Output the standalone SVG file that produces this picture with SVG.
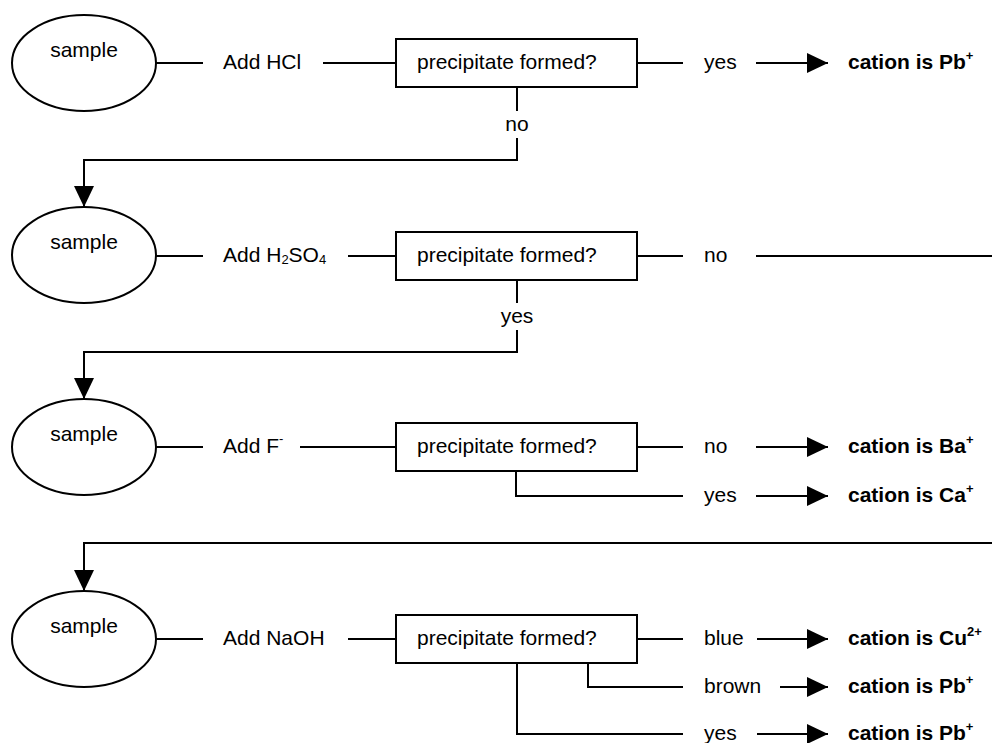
<svg xmlns="http://www.w3.org/2000/svg" width="992" height="743" viewBox="0 0 992 743">
<style>
  .t{font-family:"Liberation Sans",Arial,sans-serif;font-size:21px;fill:#000}
  .b{font-weight:bold}
  .sup{font-size:13px}
  .ln{fill:none;stroke:#000;stroke-width:2}
  .nd{fill:#fff;stroke:#000;stroke-width:2}
</style>
<defs>
  <marker id="arr" viewBox="0 0 21 20" refX="21" refY="10" markerWidth="21" markerHeight="20" orient="auto" markerUnits="userSpaceOnUse">
    <path d="M0,0 L21,10 L0,20 Z" fill="#000"/>
  </marker>
</defs>
<rect width="992" height="743" fill="#fff"/>

<g id="connectors">
  <!-- row 1 -->
  <path class="ln" d="M156,63 H203"/>
  <path class="ln" d="M323,63 H396"/>
  <path class="ln" d="M637,63 H683"/>
  <path class="ln" d="M756,63 H828" marker-end="url(#arr)"/>
  <path class="ln" d="M517,87 V111"/>
  <path class="ln" d="M517,138 V160 H84 V207" marker-end="url(#arr)"/>
  <!-- row 2 -->
  <path class="ln" d="M156,256 H203"/>
  <path class="ln" d="M348,256 H396"/>
  <path class="ln" d="M637,256 H683"/>
  <path class="ln" d="M756,256 H992"/>
  <path class="ln" d="M517,280 V303"/>
  <path class="ln" d="M517,330 V352 H84 V399" marker-end="url(#arr)"/>
  <!-- row 3 -->
  <path class="ln" d="M156,447 H203"/>
  <path class="ln" d="M300,447 H396"/>
  <path class="ln" d="M637,447 H683"/>
  <path class="ln" d="M756,447 H828" marker-end="url(#arr)"/>
  <path class="ln" d="M516,471 V496 H683"/>
  <path class="ln" d="M756,496 H828" marker-end="url(#arr)"/>
  <path class="ln" d="M992,543 H84 V591" marker-end="url(#arr)"/>
  <!-- row 4 -->
  <path class="ln" d="M156,639 H203"/>
  <path class="ln" d="M348,639 H396"/>
  <path class="ln" d="M637,639 H683"/>
  <path class="ln" d="M757,639 H828" marker-end="url(#arr)"/>
  <path class="ln" d="M588,663 V687 H683"/>
  <path class="ln" d="M780,687 H828" marker-end="url(#arr)"/>
  <path class="ln" d="M517,663 V734 H683"/>
  <path class="ln" d="M757,734 H828" marker-end="url(#arr)"/>
</g>

<!-- Row 1 -->
<g id="sample1"><ellipse class="nd" cx="84" cy="63" rx="72" ry="48"/><text class="t" x="84" y="57" text-anchor="middle">sample</text></g>
<g id="reagent1"><text class="t" x="223" y="69">Add HCl</text></g>
<g id="decision1"><rect class="nd" x="396" y="39" width="241" height="48"/><text class="t" x="417" y="69">precipitate formed?</text></g>
<g id="label1yes"><text class="t" x="704" y="69">yes</text></g>
<g id="result1"><text class="t b" x="848" y="69">cation is Pb<tspan class="sup" dy="-9">+</tspan></text></g>
<g id="label1no"><text class="t" x="517" y="131" text-anchor="middle">no</text></g>

<!-- Row 2 -->
<g id="sample2"><ellipse class="nd" cx="84" cy="255" rx="72" ry="48"/><text class="t" x="84" y="249" text-anchor="middle">sample</text></g>
<g id="reagent2"><text class="t" x="223" y="262">Add H<tspan class="sup" dy="2">2</tspan><tspan dy="-2">SO</tspan><tspan class="sup" dy="2">4</tspan></text></g>
<g id="decision2"><rect class="nd" x="396" y="232" width="241" height="48"/><text class="t" x="417" y="262">precipitate formed?</text></g>
<g id="label2no"><text class="t" x="704" y="262">no</text></g>
<g id="label2yes"><text class="t" x="517" y="323" text-anchor="middle">yes</text></g>

<!-- Row 3 -->
<g id="sample3"><ellipse class="nd" cx="84" cy="447" rx="72" ry="48"/><text class="t" x="84" y="441" text-anchor="middle">sample</text></g>
<g id="reagent3"><text class="t" x="223" y="453">Add F<tspan class="sup" dy="-10">-</tspan></text></g>
<g id="decision3"><rect class="nd" x="396" y="423" width="241" height="48"/><text class="t" x="417" y="453">precipitate formed?</text></g>
<g id="label3no"><text class="t" x="704" y="453">no</text></g>
<g id="result3a"><text class="t b" x="848" y="453">cation is Ba<tspan class="sup" dy="-9">+</tspan></text></g>
<g id="label3yes"><text class="t" x="704" y="502">yes</text></g>
<g id="result3b"><text class="t b" x="848" y="502">cation is Ca<tspan class="sup" dy="-9">+</tspan></text></g>

<!-- Row 4 -->
<g id="sample4"><ellipse class="nd" cx="84" cy="639" rx="72" ry="48"/><text class="t" x="84" y="633" text-anchor="middle">sample</text></g>
<g id="reagent4"><text class="t" x="223" y="645">Add NaOH</text></g>
<g id="decision4"><rect class="nd" x="396" y="615" width="241" height="48"/><text class="t" x="417" y="645">precipitate formed?</text></g>
<g id="label4blue"><text class="t" x="704" y="645">blue</text></g>
<g id="result4a"><text class="t b" x="848" y="645">cation is Cu<tspan class="sup" dy="-9">2+</tspan></text></g>
<g id="label4brown"><text class="t" x="704" y="693">brown</text></g>
<g id="result4b"><text class="t b" x="848" y="693">cation is Pb<tspan class="sup" dy="-9">+</tspan></text></g>
<g id="label4yes"><text class="t" x="704" y="740">yes</text></g>
<g id="result4c"><text class="t b" x="848" y="740">cation is Pb<tspan class="sup" dy="-9">+</tspan></text></g>
</svg>
